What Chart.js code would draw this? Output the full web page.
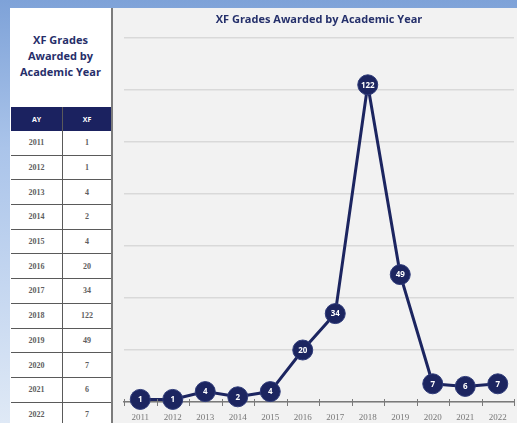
<!DOCTYPE html>
<html>
<head>
<meta charset="utf-8">
<script src="https://cdn.jsdelivr.net/npm/chart.js@4"></script>
<style>
  body {
    margin: 0; width: 517px; height: 423px; overflow: hidden; position: relative;
    background: linear-gradient(180deg, #7ea2d8 0%, #aac4ea 35%, #dfe9f6 100%);
    font-family: 'Open Sans', sans-serif;
  }
  #panel {
    position: absolute; left: 10px; top: 8px; width: 101px; height: 420px;
    background: #fff; border-right: 2px solid #7c7c7c;
  }
  #panelTitle {
    position: absolute; left: 0; top: 24px; width: 101px; text-align: center;
    color: #262e6a; font-weight: bold; font-size: 11px; line-height: 16px;
  }
  #tbl {
    position: absolute; left: 1px; top: 99px; width: 100px; border-collapse: collapse;
    table-layout: fixed;
  }
  #tbl th {
    background: #1b2260; color: #fff; font-size: 7px; font-weight: bold; height: 24px; padding: 0;
  }
  #tbl td {
    height: 23.7px; padding: 0; text-align: center; color: #5e5e5e;
    font-family: 'Liberation Serif', serif; font-size: 8px; font-weight: bold;
    border-bottom: 1px solid #5a5a5a;
  }
  #tbl td:first-child, #tbl th:first-child { border-right: 1px solid #5a5a5a; width: 51px; }
  #chartBg {
    position: absolute; left: 113px; top: 8px; width: 404px; height: 415px; background: #f2f2f2;
  }
  #myChart { position: absolute; left: 113px; top: 8px; }
</style>
</head>
<body>
<div id="panel">
  <div id="panelTitle">XF Grades<br>Awarded by<br>Academic Year</div>
  <table id="tbl"></table>
</div>
<div id="chartBg"></div>
<canvas id="myChart" width="412" height="415"></canvas>
<script>
// Data
const years = ['2011', '2012', '2013', '2014', '2015', '2016', '2017', '2018', '2019', '2020', '2021', '2022'];
const xfGrades = [1, 1, 4, 2, 4, 20, 34, 122, 49, 7, 6, 7];
const yTicks = [0, 20, 40, 60, 80, 100, 120, 140];

const navy = '#1c2560';

// Table
const tbl = document.getElementById('tbl');
let rows = '<tr><th>AY</th><th>XF</th></tr>';
years.forEach((y, i) => {
    rows += '<tr><td>' + y + '</td><td>' + xfGrades[i] + '</td></tr>';
});
tbl.innerHTML = rows;

// Tick marks crossing the x axis
const axisMarks = {
    id: 'axisMarks',
    afterDraw: (chart) => {
        const { ctx, scales: { x } } = chart;
        const half = (x.getPixelForValue(1) - x.getPixelForValue(0)) / 2;
        ctx.save();
        ctx.strokeStyle = '#7a7a7a';
        ctx.lineWidth = 1;
        for (let i = 0; i <= years.length; i++) {
            const px = Math.round(x.getPixelForValue(i) - half) + 0.5;
            ctx.beginPath();
            ctx.moveTo(px, x.top - 3);
            ctx.lineTo(px, x.top + 4);
            ctx.stroke();
        }
        ctx.restore();
    }
};

// Numbers inside points
const pointLabels = {
    id: 'pointLabels',
    afterDatasetsDraw: (chart) => {
        const { ctx } = chart;
        const meta = chart.getDatasetMeta(0);
        ctx.save();
        ctx.fillStyle = '#ffffff';
        ctx.font = 'bold 8px "Open Sans"';
        ctx.textAlign = 'center';
        ctx.textBaseline = 'middle';
        meta.data.forEach((pt, i) => {
            ctx.fillText(String(xfGrades[i]), pt.x, pt.y + 0.5);
        });
        ctx.restore();
    }
};

const ctx = document.getElementById('myChart');
const myChart = new Chart(ctx, {
    type: 'line',
    data: {
        labels: years,
        datasets: [{
            data: xfGrades,
            borderColor: navy,
            borderWidth: 3,
            tension: 0,
            pointRadius: 10,
            pointBackgroundColor: navy,
            pointBorderColor: '#2e3a78',
            pointBorderWidth: 1,
            clip: false
        }]
    },
    options: {
        responsive: false,
        animation: false,
        layout: { padding: 0 },
        plugins: {
            legend: { display: false },
            tooltip: { enabled: false },
            title: {
                display: true,
                text: 'XF Grades Awarded by Academic Year',
                color: '#25306b',
                font: { family: 'Open Sans', size: 11, weight: 'bold' },
                padding: { top: 5, bottom: 11.8 }
            }
        },
        scales: {
            x: {
                offset: true,
                grid: { display: false },
                border: { color: '#7a7a7a', width: 1.5 },
                ticks: {
                    color: '#777777',
                    font: { family: 'Liberation Serif', size: 9 },
                    padding: 2,
                    maxRotation: 0,
                    autoSkip: false
                },
                afterFit: (s) => { s.height = 21; }
            },
            y: {
                min: yTicks[0],
                max: yTicks[yTicks.length - 1],
                afterBuildTicks: (s) => { s.ticks = yTicks.map(v => ({ value: v })); },
                ticks: { display: false },
                grid: { color: '#d9d9d9', lineWidth: 1.5, drawTicks: false },
                border: { display: false },
                afterFit: (s) => { s.width = 10; }
            }
        }
    },
    plugins: [axisMarks, pointLabels]
});
</script>
</body>
</html>
